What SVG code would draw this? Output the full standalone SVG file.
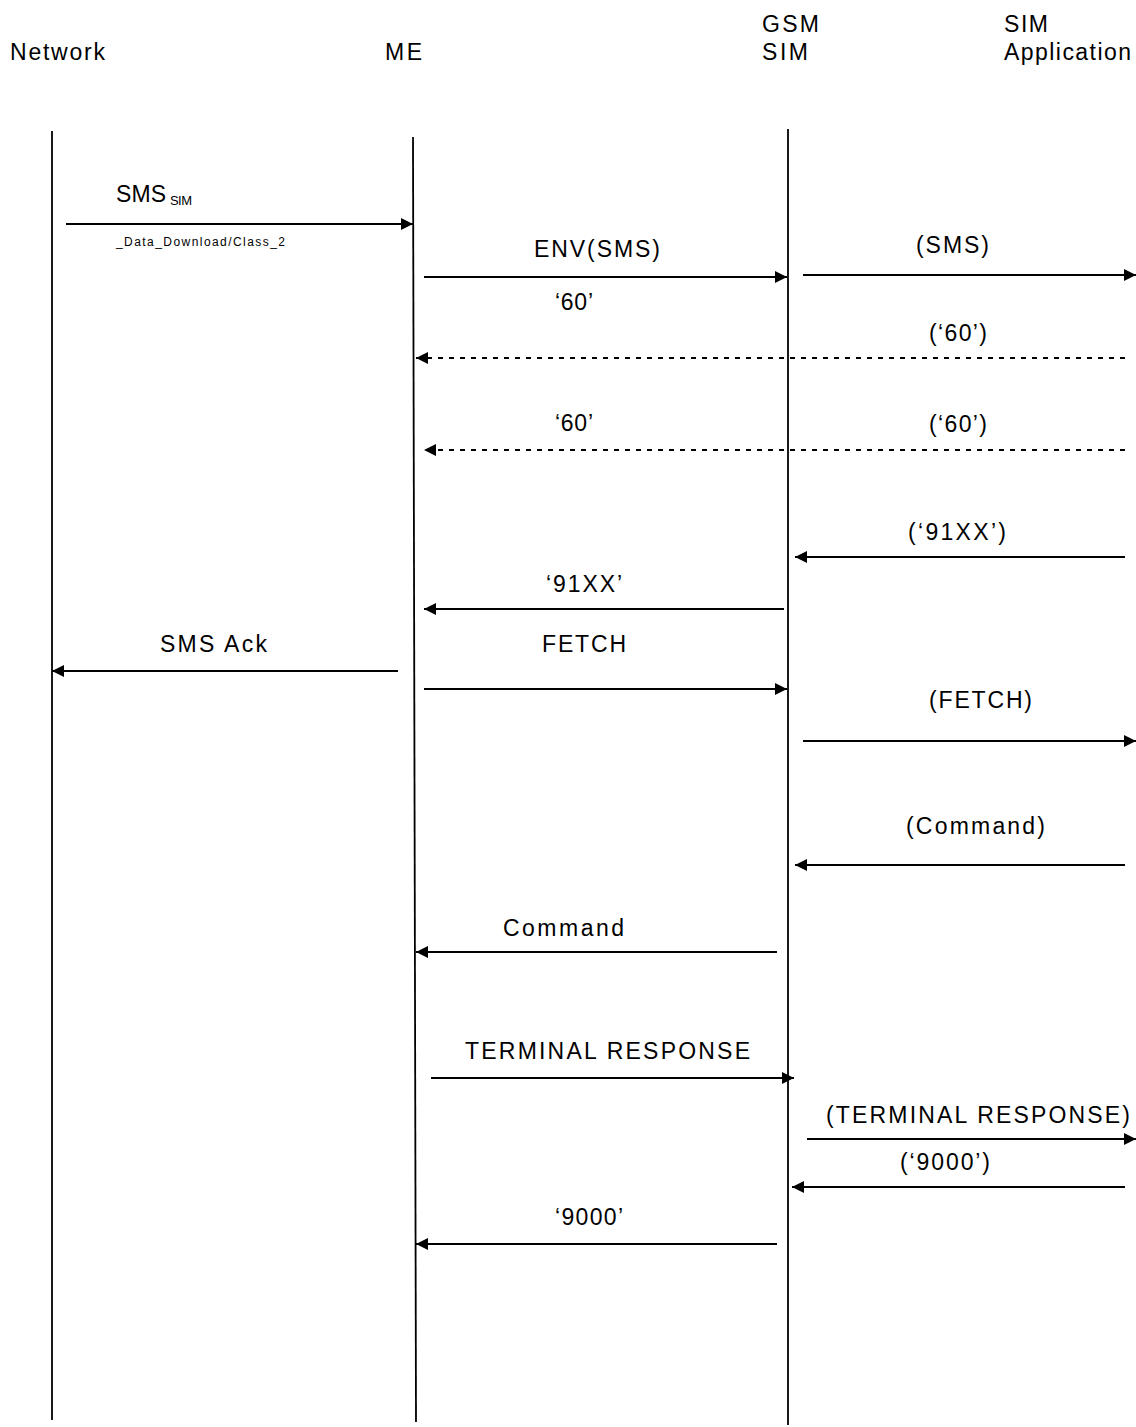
<svg xmlns="http://www.w3.org/2000/svg" width="1136" height="1427" viewBox="0 0 1136 1427">
<style>
text{font-family:"Liberation Sans",Arial,sans-serif;font-size:23px;fill:#000}
.sub{font-size:13px}
.small{font-size:12px}
.life{stroke:#000;stroke-width:1.8;fill:none}
.msg{stroke:#000;stroke-width:2;fill:none;marker-end:url(#ah)}
.dash{stroke-dasharray:5 6}
</style>
<defs>
<marker id="ah" markerUnits="userSpaceOnUse" markerWidth="13" markerHeight="14" refX="12" refY="7" orient="auto">
<path d="M0,1 L12,7 L0,13 z" fill="#000"/>
</marker>
</defs>
<g id="network">
<text x="10" y="60" textLength="95" lengthAdjust="spacing">Network</text>
<line class="life" x1="52" y1="131" x2="52" y2="1420"/>
</g>
<g id="me">
<text x="385" y="60" textLength="37" lengthAdjust="spacing">ME</text>
<line class="life" x1="413" y1="137" x2="416" y2="1422"/>
</g>
<g id="gsm-sim">
<text x="762" y="32" textLength="57" lengthAdjust="spacing">GSM</text>
<text x="762" y="60" textLength="46" lengthAdjust="spacing">SIM</text>
<line class="life" x1="788" y1="129" x2="788" y2="1425"/>
</g>
<g id="sim-app">
<text x="1004" y="32" textLength="44" lengthAdjust="spacing">SIM</text>
<text x="1004" y="60" textLength="127" lengthAdjust="spacing">Application</text>
</g>
<g id="connectors">
<line class="msg" x1="66" y1="224" x2="413" y2="224"/>
<text x="116" y="202" textLength="50" lengthAdjust="spacing">SMS</text>
<text class="sub" x="170" y="205" textLength="22" lengthAdjust="spacing">SIM</text>
<text class="small" x="116" y="246" textLength="169" lengthAdjust="spacing">_Data_Download/Class_2</text>

<line class="msg" x1="424" y1="277" x2="787" y2="277"/>
<text x="534" y="257" textLength="126" lengthAdjust="spacing">ENV(SMS)</text>

<line class="msg" x1="803" y1="275" x2="1136" y2="275"/>
<text x="916" y="253" textLength="73" lengthAdjust="spacing">(SMS)</text>

<line class="msg dash" x1="1125" y1="358" x2="416" y2="358"/>
<text x="555" y="310" textLength="38" lengthAdjust="spacing">‘60’</text>
<text x="929" y="341" textLength="58" lengthAdjust="spacing">(‘60’)</text>

<line class="msg dash" x1="1125" y1="450" x2="424" y2="450"/>
<text x="555" y="431" textLength="38" lengthAdjust="spacing">‘60’</text>
<text x="929" y="432" textLength="58" lengthAdjust="spacing">(‘60’)</text>

<line class="msg" x1="1125" y1="557" x2="795" y2="557"/>
<text x="908" y="540" textLength="98" lengthAdjust="spacing">(‘91XX’)</text>

<line class="msg" x1="784" y1="609" x2="424" y2="609"/>
<text x="546" y="592" textLength="76" lengthAdjust="spacing">‘91XX’</text>

<line class="msg" x1="398" y1="671" x2="52" y2="671"/>
<text x="160" y="652" textLength="107" lengthAdjust="spacing">SMS Ack</text>

<line class="msg" x1="424" y1="689" x2="787" y2="689"/>
<text x="542" y="652" textLength="84" lengthAdjust="spacing">FETCH</text>

<line class="msg" x1="803" y1="741" x2="1136" y2="741"/>
<text x="929" y="708" textLength="103" lengthAdjust="spacing">(FETCH)</text>

<line class="msg" x1="1125" y1="865" x2="795" y2="865"/>
<text x="906" y="834" textLength="139" lengthAdjust="spacing">(Command)</text>

<line class="msg" x1="777" y1="952" x2="416" y2="952"/>
<text x="503" y="936" textLength="121" lengthAdjust="spacing">Command</text>

<line class="msg" x1="431" y1="1078" x2="794" y2="1078"/>
<text x="465" y="1059" textLength="285" lengthAdjust="spacing">TERMINAL RESPONSE</text>

<line class="msg" x1="807" y1="1139" x2="1136" y2="1139"/>
<text x="826" y="1123" textLength="304" lengthAdjust="spacing">(TERMINAL RESPONSE)</text>

<line class="msg" x1="1125" y1="1187" x2="792" y2="1187"/>
<text x="900" y="1170" textLength="90" lengthAdjust="spacing">(‘9000’)</text>

<line class="msg" x1="777" y1="1244" x2="416" y2="1244"/>
<text x="555" y="1225" textLength="68" lengthAdjust="spacing">‘9000’</text>
</g>
</svg>
